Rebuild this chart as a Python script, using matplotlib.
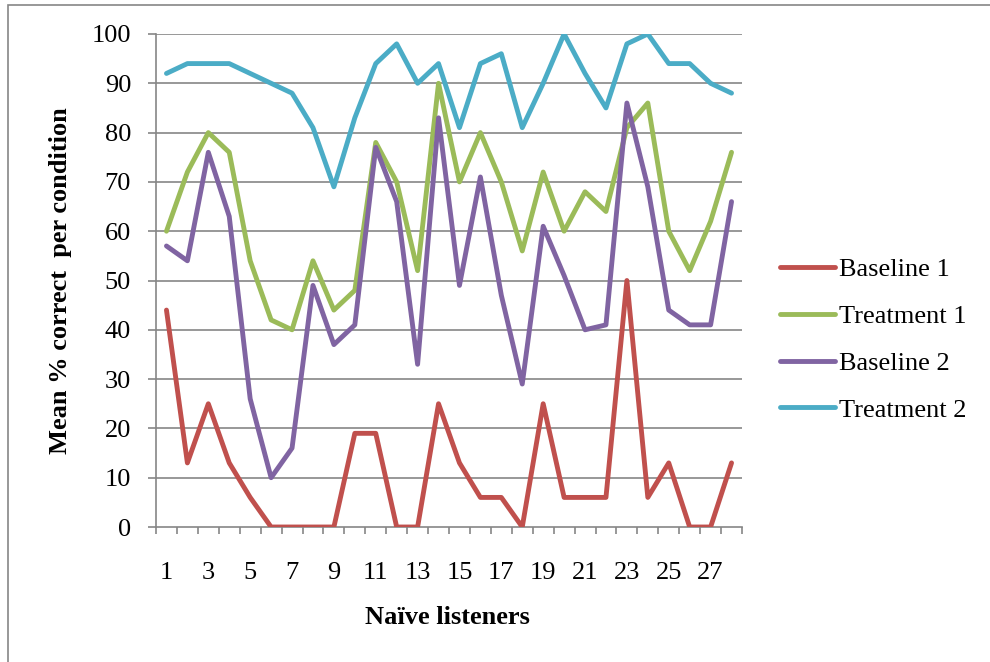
import matplotlib
matplotlib.use("Agg")
import matplotlib.pyplot as plt
from matplotlib.patches import Rectangle

listeners = list(range(1, 29))
baseline1 = [44, 13, 25, 13, 6, 0, 0, 0, 0, 19, 19, 0, 0, 25, 13, 6, 6, 0, 25, 6, 6, 6, 50, 6, 13, 0, 0, 13]
treatment1 = [60, 72, 80, 76, 54, 42, 40, 54, 44, 48, 78, 70, 52, 90, 70, 80, 70, 56, 72, 60, 68, 64, 81, 86, 60, 52, 62, 76]
baseline2 = [57, 54, 76, 63, 26, 10, 16, 49, 37, 41, 77, 66, 33, 83, 49, 71, 47, 29, 61, 51, 40, 41, 86, 69, 44, 41, 41, 66]
treatment2 = [92, 94, 94, 94, 92, 90, 88, 81, 69, 83, 94, 98, 90, 94, 81, 94, 96, 81, 90, 100, 92, 85, 98, 100, 94, 94, 90, 88]
series_names = ["Baseline 1", "Treatment 1", "Baseline 2", "Treatment 2"]
colors = ["#C0504D", "#9BBB59", "#8064A2", "#4BACC6"]
yticks = list(range(0, 101, 10))
xtick_labels = [str(i) for i in range(1, 29, 2)]

plt.rcParams['font.family'] = ['Liberation Serif', 'DejaVu Serif']

fig = plt.figure(figsize=(9.9, 6.62), dpi=100)
W, H = 990, 662
ax = fig.add_axes([156 / W, 1 - 527 / H, (742 - 156) / W, (527 - 34) / H])

grey = "#868686"
for yv in yticks[1:]:
    ax.axhline(yv, color=grey, lw=1.2, zorder=1)

for vals, name, c in zip([baseline1, treatment1, baseline2, treatment2], series_names, colors):
    ax.plot(listeners, vals, color=c, lw=3.5, label=name,
            solid_joinstyle='round', solid_capstyle='round', zorder=3)

fs = 19
ax.set_xlim(0.5, 28.5)
ax.set_ylim(0, 100)
ax.set_yticks(yticks)
ax.set_yticklabels([str(v) for v in yticks], fontsize=fs)
ax.set_xticks(list(range(1, 29, 2)))
ax.set_xticklabels(xtick_labels, fontsize=fs)
ax.set_xticks([i + 0.5 for i in range(0, 29)], minor=True)
ax.tick_params(axis='x', which='major', length=0, pad=25)
ax.tick_params(axis='x', which='minor', length=5, width=1.2, color=grey, direction='out')
ax.tick_params(axis='y', length=6, width=1.2, color=grey, direction='out', pad=12)

for s in ['top', 'right']:
    ax.spines[s].set_visible(False)
for s in ['left', 'bottom']:
    ax.spines[s].set_color(grey)
    ax.spines[s].set_linewidth(1.2)
ax.spines['bottom'].set_zorder(2)

fig.text(447 / W, 1 - 618 / H, "Naïve listeners", ha='center', va='center',
         fontsize=fs, fontweight='bold')
fig.text(61 / W, 1 - 281 / H, "Mean % correct  per condition", ha='center', va='center',
         rotation=90, fontsize=fs, fontweight='bold')

leg = fig.legend(loc='upper left', bbox_to_anchor=(780 / W, 1 - 258 / H), frameon=False,
                 fontsize=fs, handlelength=2.1, handletextpad=0.15, labelspacing=0.88,
                 borderpad=0, borderaxespad=0)
for l in leg.get_lines():
    l.set_linewidth(3.5)
    l.set_solid_capstyle('round')

fig.patches.append(Rectangle((8 / W, -0.1), 1.2, 1 - 5 / H + 0.1, transform=fig.transFigure,
                             fill=False, edgecolor=grey, lw=1.2))

fig.savefig("out.png", dpi=100, facecolor='white')
